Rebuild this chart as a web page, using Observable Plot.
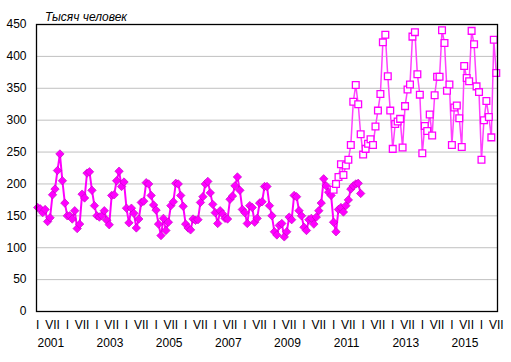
<!DOCTYPE html>
<html><head><meta charset="utf-8">
<script src="https://cdn.jsdelivr.net/npm/d3@7"></script>
<script src="https://cdn.jsdelivr.net/npm/@observablehq/plot@0.6"></script>
<style>html,body{margin:0;padding:0;background:#fff;}</style>
</head><body><div id="chart"></div>
<script>
const title = "Тысяч человек";
const firstYear = 2001;
const monthCount = 187; // Jan 2001 .. Jul 2016

// Series A (filled diamonds), monthly, Jan 2001 .. Dec 2011
const seriesAStart = 0;
const seriesA = [
  163, 161, 155, 160, 141, 147, 183, 192, 221, 247, 205, 170,
  150, 150, 145, 158, 130, 137, 184, 178, 217, 219, 190, 166,
  150, 148, 150, 158, 143, 136, 182, 183, 205, 220, 196, 203,
  162, 139, 162, 154, 131, 145, 171, 173, 202, 200, 182, 167,
  159, 137, 119, 146, 127, 140, 166, 172, 201, 200, 182, 165,
  137, 131, 128, 145, 143, 144, 171, 180, 200, 204, 186, 168,
  155, 138, 158, 153, 146, 145, 176, 181, 197, 211, 190, 160,
  155, 138, 166, 163, 140, 146, 170, 172, 196, 196, 166, 150,
  125, 120, 135, 138, 117, 125, 148, 144, 182, 180, 158, 150,
  132, 127, 144, 146, 137, 148, 158, 170, 208, 197, 187, 182,
  140, 125, 160, 163, 156, 166, 175, 192, 197, 200, 201, 185
];

// Series B (hollow squares), monthly, Jan 2011 .. Jul 2016
const seriesBStart = 120;
const seriesB = [
  191, 200, 211, 231, 214, 229, 238, 261, 329, 355, 325, 278,
  246, 255, 263, 270, 261, 290, 315, 341, 422, 434, 369, 315,
  255, 294, 298, 302, 257, 322, 348, 356, 431, 438, 372, 340,
  248, 291, 283, 309, 276, 339, 368, 368, 441, 421, 346, 356,
  261, 320, 323, 303, 258, 385, 366, 361, 440, 419, 353, 344,
  238, 300, 330, 305, 273, 426, 374
];

const yTicks = [0, 50, 100, 150, 200, 250, 300, 350, 400, 450];
const gridValues = [50, 100, 150, 200, 250, 300, 350, 400];
const halfYearLabels = ["I", "VII"];
const yearLabels = ["2001", "2003", "2005", "2007", "2009", "2011", "2013", "2015"];

const dataA = seriesA.map((v, i) => ({m: seriesAStart + i, v}));
const dataB = seriesB.map((v, i) => ({m: seriesBStart + i, v}));
const halfTicks = d3.range(0, monthCount, 6);
const yearOffset = 5.3;
const yearTicks = yearLabels.map(y => (+y - firstYear) * 12 + yearOffset);

const chart = Plot.plot({
  width: 511, height: 362,
  marginLeft: 36, marginRight: 14, marginTop: 24, marginBottom: 51,
  style: {fontFamily: '"Liberation Sans", Arial, sans-serif', fontSize: "12px", background: "#fff", color: "#000", overflow: "visible"},
  x: {type: "linear", domain: [-0.5, monthCount - 0.5]},
  y: {domain: [0, 450]},
  marks: [
    Plot.ruleY(gridValues, {stroke: "#c0c0c0", strokeWidth: 1}),
    Plot.axisY(yTicks, {tickSize: 0, tickPadding: 10, label: null}),
    Plot.axisX(halfTicks, {tickSize: 0, tickPadding: 9, label: null,
      tickFormat: m => halfYearLabels[(m % 12) / 6]}),
    Plot.axisX(yearTicks, {tickSize: 0, tickPadding: 27, label: null,
      tickFormat: d => yearLabels[Math.round((d - yearOffset) / 24)]}),
    Plot.lineY(dataA, {x: "m", y: "v", stroke: "#ff00ff", strokeWidth: 2}),
    Plot.dot(dataA, {x: "m", y: "v", symbol: "diamond2", r: 3.8, fill: "#ff00ff", stroke: "#c000c0", strokeWidth: 0.6}),
    Plot.lineY(dataB, {x: "m", y: "v", stroke: "#ff40ff", strokeWidth: 1.5}),
    Plot.dot(dataB, {x: "m", y: "v", symbol: "square", r: 3.8, fill: "#fff", stroke: "#ff00ff", strokeWidth: 1.3}),
    Plot.frame({stroke: "#000", strokeWidth: 1.3}),
    Plot.text([title], {text: d => d, frameAnchor: "top-left", dx: 8.5, dy: -7.5, lineAnchor: "middle", textAnchor: "start", fontStyle: "italic", fontSize: 12})
  ]
});
document.getElementById("chart").appendChild(chart);
</script>
</body></html>
